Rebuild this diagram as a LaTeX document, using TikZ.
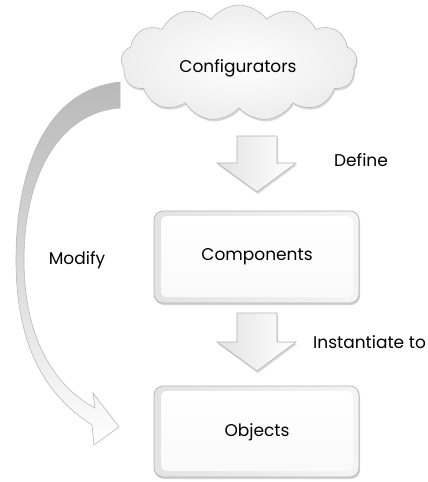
\documentclass[tikz,border=0pt]{standalone}
\usepackage{fontspec}
\setmainfont{Poppins}
\usetikzlibrary{shapes.symbols,shadows}
\begin{document}
\begin{tikzpicture}[x=1pt,y=-1pt,
  lbl/.style={font=\fontsize{17}{19}\selectfont, text=black},
  boxouter/.style={draw=gray!60, line width=0.7pt, rounded corners=9pt, left color=gray!22, right color=gray!8,
     drop shadow={opacity=0.35, shadow xshift=1pt, shadow yshift=-2pt}},
  boxinner/.style={rounded corners=6pt, top color=white, bottom color=gray!4},
  barrow/.style={draw=gray!60, line width=0.6pt, left color=gray!22, right color=white,
     drop shadow={opacity=0.3, shadow xshift=1pt, shadow yshift=-2pt}},
]
\useasboundingbox (0,0) rectangle (428,482);

% Modify curved arrow
\path[draw=gray!55, line width=0.6pt, top color=gray!55, bottom color=white, middle color=gray!30]
  (120,82) .. controls (45,90) and (16,170) .. (16,260)
  .. controls (16,345) and (45,395) .. (92,425)
  -- (94,445) -- (119,427) -- (93,393) -- (95,408)
  .. controls (52,385) and (24,335) .. (24,260)
  .. controls (24,175) and (60,112) .. (120,108) -- cycle;

% cloud
\node[cloud, cloud puffs=13, cloud puff arc=110, aspect=2.1, minimum width=236pt, minimum height=116pt,
      draw=gray!55, line width=0.6pt, inner color=white, outer color=gray!14,
      drop shadow={opacity=0.3, shadow xshift=1pt, shadow yshift=-2pt}] (cfg) at (239,63) {};
\node[lbl] (cfgt) at (238,68) {Configurators};

% Define arrow
\path[barrow] (237,136) -- (277,136) -- (277,163) -- (296,163) -- (257,192) -- (217,163) -- (237,163) -- cycle;
\node[lbl] (def) at (361,160) {Define};

% Components box
\path[boxouter] (154,211) rectangle (359,303);
\path[boxinner] (161,216) rectangle (353,297);
\node[lbl] (comp) at (257,257) {Components};

% Instantiate arrow
\path[barrow] (237,313) -- (277,313) -- (277,342) -- (296,342) -- (257,371) -- (217,342) -- (237,342) -- cycle;
\node[lbl, anchor=west, inner sep=0pt] (inst) at (313,342) {Instantiate to};

% Objects box
\path[boxouter] (154,386) rectangle (359,477);
\path[boxinner] (161,391) rectangle (353,471);
\node[lbl] (obj) at (257,432) {Objects};

\node[lbl] (mod) at (77,260) {Modify};
\end{tikzpicture}
\end{document}
